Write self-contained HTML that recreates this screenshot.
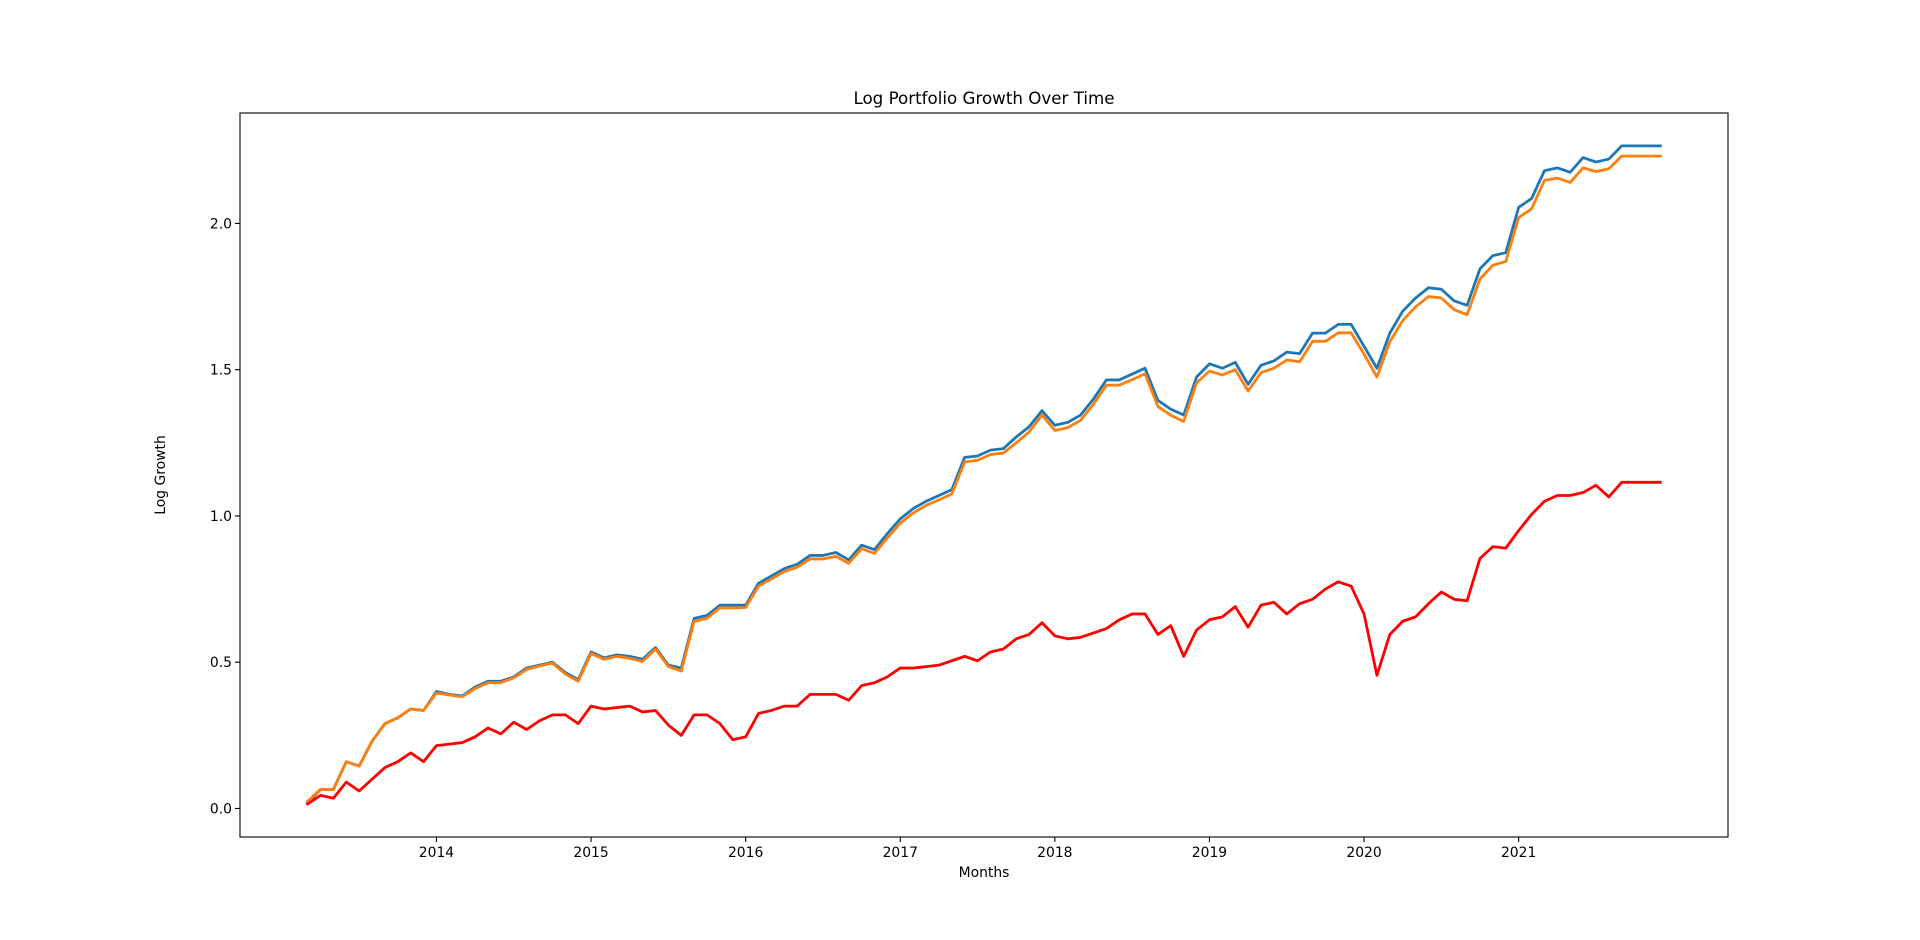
<!DOCTYPE html>
<html><head><meta charset="utf-8"><style>
body{margin:0;background:#fff}
svg{display:block;font-family:"DejaVu Sans","Liberation Sans",sans-serif}
</style></head><body>
<svg id="chart" width="1920" height="940" xmlns="http://www.w3.org/2000/svg"></svg>
<script>
const years=[2014,2015,2016,2017,2018,2019,2020,2021];
const yTicks=[0.0,0.5,1.0,1.5,2.0];
const yTickLabels=["0.0","0.5","1.0","1.5","2.0"];
const startYear=2013, startMonth=3;
const seriesBlue=[0.02,0.065,0.065,0.16,0.145,0.23,0.29,0.31,0.34,0.335,
0.40,0.39,0.385,0.415,0.435,0.435,0.45,0.48,0.49,0.50,0.465,0.44,
0.535,0.515,0.525,0.52,0.51,0.55,0.49,0.48,0.65,0.66,0.695,0.695,
0.695,0.77,0.795,0.82,0.835,0.865,0.865,0.875,0.85,0.90,0.885,0.94,
0.99,1.025,1.05,1.07,1.09,1.20,1.205,1.225,1.23,1.27,1.305,1.36,
1.31,1.32,1.345,1.40,1.465,1.465,1.485,1.505,1.395,1.365,1.345,1.475,
1.52,1.505,1.525,1.45,1.515,1.53,1.56,1.555,1.625,1.625,1.655,1.655,
1.58,1.505,1.625,1.70,1.745,1.78,1.775,1.735,1.72,1.845,1.89,1.90,
2.055,2.085,2.18,2.19,2.175,2.225,2.21,2.22,2.265,2.265,2.265,2.265];
const seriesOrange=[0.025,0.065,0.065,0.16,0.145,0.23,0.29,0.31,0.34,0.335,
0.395,0.388,0.382,0.41,0.43,0.43,0.447,0.475,0.487,0.497,0.46,0.435,
0.53,0.51,0.52,0.513,0.503,0.545,0.485,0.47,0.64,0.65,0.686,0.686,
0.687,0.76,0.785,0.81,0.825,0.853,0.853,0.862,0.838,0.888,0.872,0.925,
0.975,1.01,1.036,1.055,1.075,1.185,1.19,1.21,1.215,1.25,1.287,1.345,
1.292,1.302,1.327,1.382,1.447,1.447,1.466,1.486,1.374,1.344,1.323,1.455,
1.495,1.482,1.5,1.427,1.49,1.505,1.533,1.527,1.597,1.597,1.626,1.626,
1.553,1.475,1.595,1.668,1.715,1.75,1.745,1.705,1.688,1.81,1.857,1.87,
2.02,2.05,2.147,2.155,2.14,2.19,2.177,2.187,2.23,2.23,2.23,2.23];
const seriesRed=[0.015,0.045,0.035,0.09,0.06,0.10,0.14,0.16,0.19,0.16,
0.215,0.22,0.225,0.245,0.275,0.255,0.295,0.27,0.30,0.32,0.32,0.29,
0.35,0.34,0.345,0.35,0.33,0.335,0.285,0.25,0.32,0.32,0.29,0.235,
0.245,0.325,0.335,0.35,0.35,0.39,0.39,0.39,0.37,0.42,0.43,0.45,
0.48,0.48,0.485,0.49,0.505,0.52,0.505,0.535,0.545,0.58,0.595,0.635,
0.59,0.58,0.585,0.60,0.615,0.645,0.665,0.665,0.595,0.625,0.52,0.61,
0.645,0.655,0.69,0.62,0.695,0.705,0.665,0.70,0.715,0.75,0.775,0.76,
0.665,0.455,0.595,0.64,0.655,0.70,0.74,0.715,0.71,0.855,0.895,0.89,
0.95,1.005,1.05,1.07,1.07,1.08,1.105,1.065,1.115,1.115,1.115,1.115];

const NS="http://www.w3.org/2000/svg";
const svg=document.getElementById('chart');
const L=240,R=1728,T=113,B=837;
const tOf=i=>startYear+(startMonth-1+i)/12;
const n=seriesBlue.length;
const tMin=tOf(0),tMax=tOf(n-1),tPad=(tMax-tMin)*0.05;
const all=seriesBlue.concat(seriesOrange,seriesRed);
const vMin=Math.min(...all),vMax=Math.max(...all),vPad=(vMax-vMin)*0.05;
const xs=t=>L+(t-(tMin-tPad))/((tMax+tPad)-(tMin-tPad))*(R-L);
const ys=v=>B-(v-(vMin-vPad))/((vMax+vPad)-(vMin-vPad))*(B-T);
function mk(tag,attrs,parent){const e=document.createElementNS(NS,tag);for(const k in attrs)e.setAttribute(k,attrs[k]);(parent||svg).appendChild(e);return e;}

function drawLine(vals,color,name){
  const p=mk('polyline',{points:vals.map((v,i)=>xs(tOf(i)).toFixed(2)+','+ys(v).toFixed(2)).join(' '),fill:'none',stroke:color,'stroke-width':2.8,'stroke-linejoin':'round','stroke-linecap':'square'});
  
  
}
drawLine(seriesBlue,'#1f77b4','series-blue-line');
drawLine(seriesOrange,'#ff7f0e','series-orange-line');
drawLine(seriesRed,'#ff0000','series-red-line');

const frame=mk('rect',{x:L,y:T,width:R-L,height:B-T,fill:'none',stroke:'#000','stroke-width':1.1});



years.forEach(yr=>{
  const x=xs(yr);
  mk('line',{x1:x,x2:x,y1:B,y2:B+5,stroke:'#000','stroke-width':1.1});
  const t=mk('text',{x:x,y:B+20,'font-size':13.9,'text-anchor':'middle',fill:'#000'});
  t.textContent=String(yr);
  
  
});
yTicks.forEach((v,i)=>{
  const y=ys(v);
  mk('line',{x1:L-5,x2:L,y1:y,y2:y,stroke:'#000','stroke-width':1.1});
  const t=mk('text',{x:L-8,y:y+5,'font-size':13.9,'text-anchor':'end',fill:'#000'});
  t.textContent=yTickLabels[i];
  
  
});
const title=mk('text',{x:(L+R)/2,y:104,'font-size':16.7,'text-anchor':'middle',fill:'#000'});
title.textContent='Log Portfolio Growth Over Time';


const xl=mk('text',{x:(L+R)/2,y:877,'font-size':13.9,'text-anchor':'middle',fill:'#000'});
xl.textContent='Months';


const yl=mk('text',{x:0,y:0,'font-size':13.9,'text-anchor':'middle',fill:'#000',transform:'translate(165,'+((T+B)/2)+') rotate(-90)'});
yl.textContent='Log Growth';


</script>
</body></html>
